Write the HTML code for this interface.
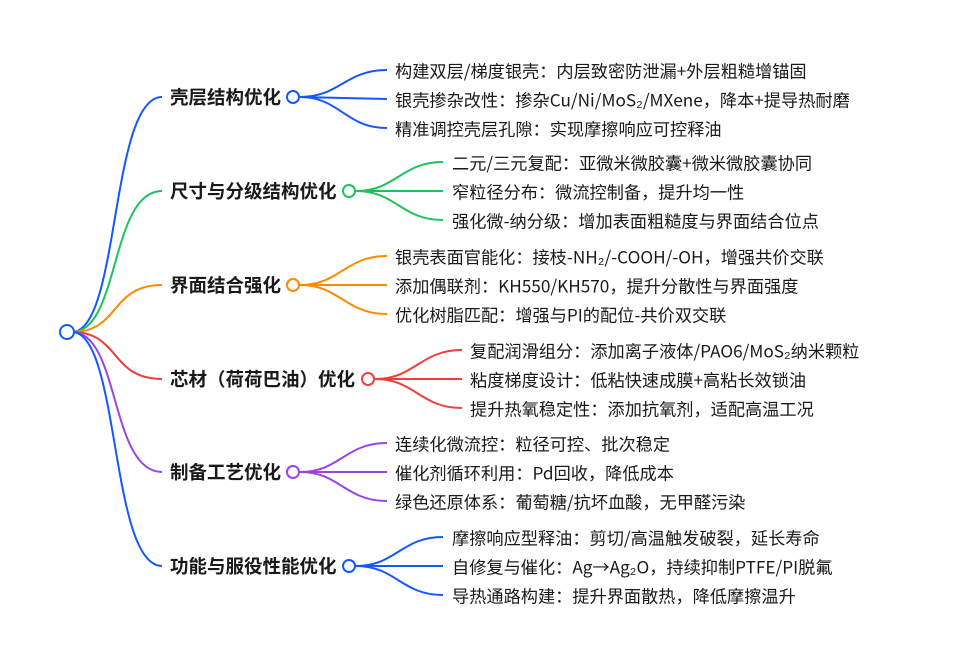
<!DOCTYPE html>
<html><head><meta charset="utf-8"><style>
html,body{margin:0;padding:0;background:#fff;}
svg{display:block;}
text{font-family:"Noto Sans CJK SC","Liberation Sans",sans-serif;font-size:17.2px;fill:#1a1a1a;dominant-baseline:central;}
.b{font-weight:bold;font-size:18.5px;}
path{fill:none;stroke-width:2;}
circle{fill:#fff;stroke-width:2;}
</style></head><body>
<svg width="955" height="664" viewBox="0 0 955 664">
<path d="M72,332 C120,332 110,97 162,97" stroke="#1557ff"/>
<path d="M72,332 C120,332 110,191 162,191" stroke="#1cc25c"/>
<path d="M72,332 C120,332 110,285 162,285" stroke="#ff8a00"/>
<path d="M72,332 C120,332 110,379 162,379" stroke="#f23d3d"/>
<path d="M72,332 C120,332 110,472 162,472" stroke="#9a44e3"/>
<path d="M72,332 C120,332 110,566 162,566" stroke="#1557ff"/>

<g stroke="#1557ff">
<path d="M300,97 C340,97 345,70 387,70"/><path d="M300,97 L387,99"/><path d="M300,97 C340,97 345,128 387,128"/>
<circle cx="293" cy="97" r="6"/></g>
<text class="b" x="170" y="97">壳层结构优化</text>
<text x="395" y="70">构建双层/梯度银壳：内层致密防泄漏+外层粗糙增锚固</text>
<text x="395" y="99">银壳掺杂改性：掺杂Cu/Ni/MoS₂/MXene，降本+提导热耐磨</text>
<text x="395" y="128">精准调控壳层孔隙：实现摩擦响应可控释油</text>

<g stroke="#1cc25c">
<path d="M356,191 C396,191 401,162 443,162"/><path d="M356,191 L443,191"/><path d="M356,191 C396,191 401,220 443,220"/>
<circle cx="349" cy="191" r="6"/></g>
<text class="b" x="170" y="191">尺寸与分级结构优化</text>
<text x="452" y="162">二元/三元复配：亚微米微胶囊+微米微胶囊协同</text>
<text x="452" y="191">窄粒径分布：微流控制备，提升均一性</text>
<text x="452" y="220">强化微-纳分级：增加表面粗糙度与界面结合位点</text>

<g stroke="#ff8a00">
<path d="M300,285 C340,285 345,256 387,256"/><path d="M300,285 L387,285"/><path d="M300,285 C340,285 345,314 387,314"/>
<circle cx="293" cy="285" r="6"/></g>
<text class="b" x="170" y="285">界面结合强化</text>
<text x="395" y="256">银壳表面官能化：接枝-NH₂/-COOH/-OH，增强共价交联</text>
<text x="395" y="285">添加偶联剂：KH550/KH570，提升分散性与界面强度</text>
<text x="395" y="314">优化树脂匹配：增强与PI的配位-共价双交联</text>

<g stroke="#f23d3d">
<path d="M375,379 C415,379 420,350 462,350"/><path d="M375,379 L462,379"/><path d="M375,379 C415,379 420,408 462,408"/>
<circle cx="368" cy="379" r="6"/></g>
<text class="b" x="170" y="379">芯材（荷荷巴油）优化</text>
<text x="470" y="350">复配润滑组分：添加离子液体/PAO6/MoS₂纳米颗粒</text>
<text x="470" y="379">粘度梯度设计：低粘快速成膜+高粘长效锁油</text>
<text x="470" y="408">提升热氧稳定性：添加抗氧剂，适配高温工况</text>

<g stroke="#9a44e3">
<path d="M300,472 C340,472 345,443 387,443"/><path d="M300,472 L387,472"/><path d="M300,472 C340,472 345,501 387,501"/>
<circle cx="293" cy="472" r="6"/></g>
<text class="b" x="170" y="472">制备工艺优化</text>
<text x="395" y="443">连续化微流控：粒径可控、批次稳定</text>
<text x="395" y="472">催化剂循环利用：Pd回收，降低成本</text>
<text x="395" y="501">绿色还原体系：葡萄糖/抗坏血酸，无甲醛污染</text>

<g stroke="#1557ff">
<path d="M356,566 C396,566 401,537 443,537"/><path d="M356,566 L443,566"/><path d="M356,566 C396,566 401,595 443,595"/>
<circle cx="349" cy="566" r="6"/></g>
<text class="b" x="170" y="566">功能与服役性能优化</text>
<text x="452" y="537">摩擦响应型释油：剪切/高温触发破裂，延长寿命</text>
<text x="452" y="566">自修复与催化：Ag→Ag₂O，持续抑制PTFE/PI脱氟</text>
<text x="452" y="595">导热通路构建：提升界面散热，降低摩擦温升</text>

<circle cx="67" cy="332" r="7" stroke="#1557ff"/>
</svg>
</body></html>
